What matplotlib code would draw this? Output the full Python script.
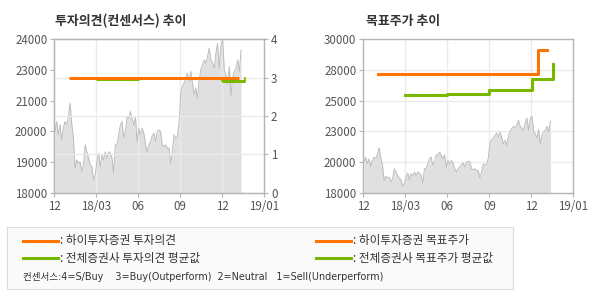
import numpy as np
import matplotlib
matplotlib.use("Agg")
import matplotlib.pyplot as plt
from matplotlib.lines import Line2D

plt.rcParams['font.family'] = ['Noto Sans CJK KR', 'DejaVu Sans']

# ---------------- data ----------------
x_tick_labels = ["12", "18/03", "06", "09", "12", "19/01"]
left_tick_labels = ["18000", "19000", "20000", "21000", "23000", "24000"]
right_opinion_ticks = [0, 1, 2, 3, 4]
target_tick_labels = ["18000", "20000", "23000", "25000", "28000", "30000"]

# daily-ish closing price, evenly spaced from Dec 2017 to mid Jan 2019 (month index)
price = [20390, 20780, 20260, 20650, 20060, 20520, 20780, 20650, 20970, 21500,
         20700, 20140, 18950, 19280, 19150, 19200, 18820, 19100, 19870, 19600,
         19350, 19100, 19000, 18500, 18690, 19210, 19540, 19020, 19480, 19280,
         19600, 19350, 19600, 19540, 19350, 18760, 19870, 19870, 20260, 20650,
         20780, 20140, 20390, 20970, 20900, 21170, 20900, 20650, 20970, 20000,
         20520, 20260, 20520, 20330, 19870, 19600, 19870, 20000, 20200, 20330,
         20000, 20390, 20450, 20390,
         19870, 19800, 19870, 19740, 19740, 19150, 19600, 20260, 20140, 20200,
         20710, 21890, 22150, 22280, 22470, 22670, 22350, 22740, 22280, 21820,
         22100, 21690, 22400, 22800, 23000, 23190, 23060, 23320, 23650, 23190,
         23060, 22870, 23450, 23840, 22870, 23780, 23970, 22800, 22600, 22280,
         22930, 21800, 22500, 22740, 22870, 23190, 22740, 23580]
price_start_month = 0.05
price_end_month = 13.36

# investment opinion (consensus score)
hi_opinion_x = [1.05, 13.2]
hi_opinion_y = [3.0, 3.0]
avg_opinion_seg1_x = [3.0, 6.05]
avg_opinion_seg1_y = [2.97, 2.97]
avg_opinion_seg2_x = [12.0, 13.65]
avg_opinion_seg2_y = [2.92, 2.92]

# target price
hi_target_x = [1.03, 12.46, 13.15]
hi_target_y = [27240, 29160, 29160]
avg_target_x = [3.0, 5.96, 8.98, 12.02, 13.57, 13.57]
avg_target_y = [25600, 25680, 26000, 26920, 26920, 28080]

ORANGE = "#ff7300"
GREEN = "#78b800"
FILL = "#e0e0e0"
PLINE = "#bdbdbd"
GRID = "#ebebeb"
SPINE = "#b4b4b4"
TXT = "#555555"

fig = plt.figure(figsize=(5.9, 3.0), dpi=100)
fig.patch.set_facecolor("white")

px = np.linspace(price_start_month, price_end_month, len(price))
xticks = [0, 3, 6, 9, 12, 15]


def style_axes(ax):
    for s in ax.spines.values():
        s.set_color(SPINE)
        s.set_linewidth(1.0)
        s.set_zorder(5)
    ax.set_xlim(0, 15)
    ax.set_xticks(xticks)
    ax.set_xticklabels(x_tick_labels)
    ax.tick_params(axis='both', colors=SPINE, labelcolor=TXT, labelsize=8.3,
                   length=3, width=0.8, pad=2)


# ---------------- left chart ----------------
axL = fig.add_axes([0.092, 0.358, 0.3554, 0.5113])
axL.set_ylim(18000, 24000)
axL.fill_between(px, price, 18000, color=FILL, lw=0, zorder=1)
axL.plot(px, price, color=PLINE, lw=0.7, zorder=2)
style_axes(axL)
axL.set_yticks(np.linspace(18000, 24000, len(left_tick_labels)))
axL.set_yticklabels(left_tick_labels)
for xv in xticks[1:-1]:
    axL.axvline(xv, color=GRID, lw=1.0, zorder=1.5)

axR = axL.twinx()
axR.set_ylim(0, 4)
axR.set_yticks(right_opinion_ticks)
axR.set_yticklabels([str(v) for v in right_opinion_ticks])
axR.tick_params(axis='y', colors=SPINE, labelcolor=TXT, labelsize=8.3,
                length=3, width=0.8, pad=2)
for s in axR.spines.values():
    s.set_color(SPINE)
axR.patch.set_visible(False)
for yv in right_opinion_ticks[1:-1]:
    axR.axhline(yv, color=GRID, lw=1.0, zorder=1)
axR.plot(avg_opinion_seg1_x, avg_opinion_seg1_y, color=GREEN, lw=2.2, solid_capstyle='butt', zorder=3)
axR.plot(avg_opinion_seg2_x, avg_opinion_seg2_y, color=GREEN, lw=2.2, solid_capstyle='butt', zorder=3)
axR.plot([12.0, 12.0], [2.92, 2.99], color=GREEN, lw=1.2, zorder=3)
axR.plot([13.65, 13.65], [2.92, 2.99], color=GREEN, lw=1.2, zorder=3)
axR.plot(hi_opinion_x, hi_opinion_y, color=ORANGE, lw=2.2, solid_capstyle='butt', zorder=4)

fig.text(0.094, 0.93, "투자의견(컨센서스) 추이", fontsize=9.3, fontweight='bold',
         color="#333333", ha='left', va='center')

# ---------------- right chart ----------------
axT = fig.add_axes([0.6158, 0.358, 0.356, 0.5113])
axT.set_ylim(18000, 30000)
axT.fill_between(px, price, 18000, color=FILL, lw=0, zorder=1)
axT.plot(px, price, color=PLINE, lw=0.7, zorder=2)
style_axes(axT)
tpos = np.linspace(18000, 30000, len(target_tick_labels))
axT.set_yticks(tpos)
axT.set_yticklabels(target_tick_labels)
for xv in xticks[1:-1]:
    axT.axvline(xv, color=GRID, lw=1.0, zorder=0.5)
for yv in tpos[1:-1]:
    axT.axhline(yv, color=GRID, lw=1.0, zorder=0.5)
axT.plot(avg_target_x, avg_target_y, color=GREEN, lw=2.2, drawstyle='steps-post', zorder=3)
axT.plot(hi_target_x, hi_target_y, color=ORANGE, lw=2.2, drawstyle='steps-post', zorder=4)

fig.text(0.621, 0.93, "목표주가 추이", fontsize=9.3, fontweight='bold',
         color="#333333", ha='left', va='center')

# ---------------- legend box ----------------
lg = fig.add_axes([7 / 590, 1 - 289 / 300, 506 / 590, 62 / 300])
lg.set_xlim(0, 506)
lg.set_ylim(62, 0)
lg.set_xticks([])
lg.set_yticks([])
lg.set_facecolor("#fafafa")
for s in lg.spines.values():
    s.set_color("#dddddd")

legend_items = [
    (16, 13.7, ORANGE, ": 하이투자증권 투자의견"),
    (16, 31.0, GREEN, ": 전체증권사 투자의견 평균값"),
    (309, 13.7, ORANGE, ": 하이투자증권 목표주가"),
    (309, 31.0, GREEN, ": 전체증권사 목표주가 평균값"),
]
for x0, y0, col, label in legend_items:
    lg.add_line(Line2D([x0, x0 + 35], [y0, y0], color=col, lw=2.2))
    lg.text(x0 + 37, y0, label, fontsize=8.4, color="#333333", va='center', ha='left')

lg.text(16, 50, "컨센서스:4=S/Buy    3=Buy(Outperform)  2=Neutral   1=Sell(Underperform)",
        fontsize=6.9, color="#333333", va='center', ha='left',
        family=['DejaVu Sans', 'Noto Sans CJK KR'])

fig.savefig("out.png", dpi=100, facecolor="white")
